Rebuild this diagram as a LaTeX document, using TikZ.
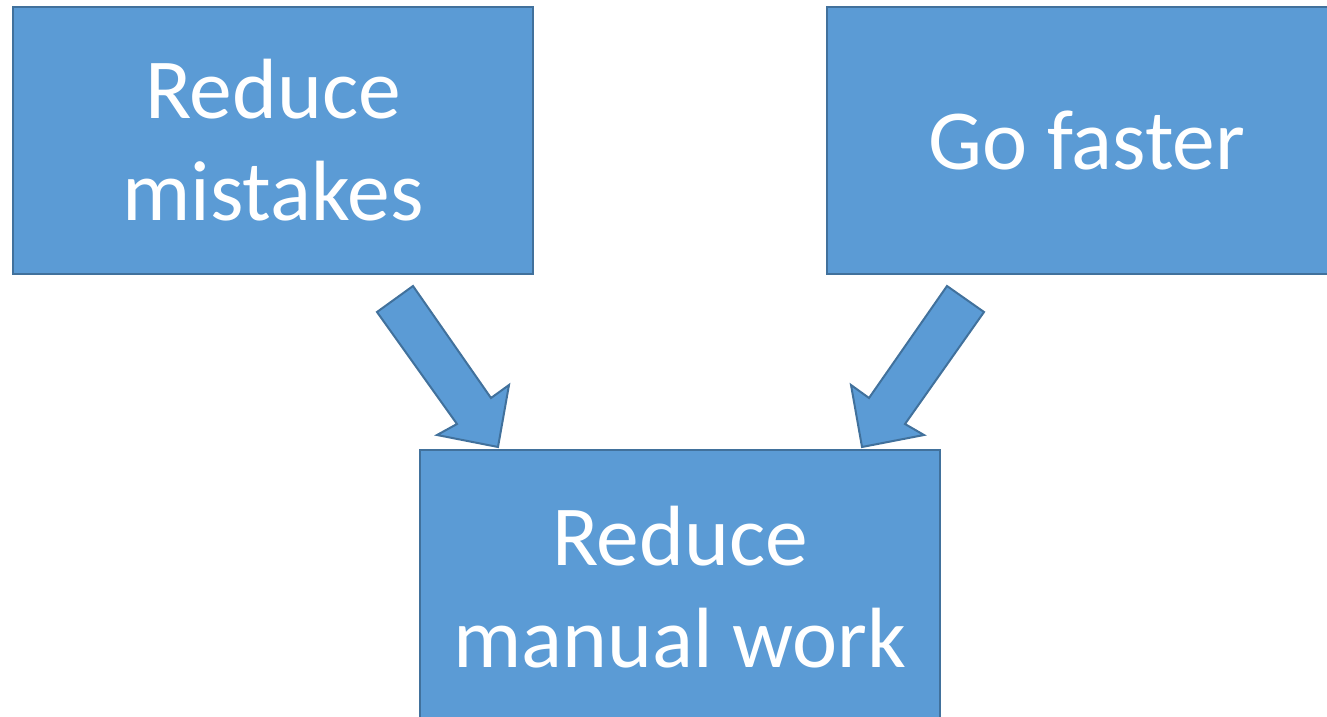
\documentclass[tikz,border=0pt]{standalone}
\usepackage{fontspec}
\setmainfont{Carlito}
\definecolor{boxfill}{HTML}{5B9BD5}
\definecolor{boxline}{HTML}{41719C}
\begin{document}
\begin{tikzpicture}[x=1pt,y=-1pt,
  goalbox/.style={draw=boxline, fill=boxfill, line width=2pt, minimum width=520pt, minimum height=267pt,
    text=white, align=center, font=\fontsize{85.5}{102}\selectfont, inner sep=0pt},
  blockarrow/.style={draw=boxline, fill=boxfill, line width=2pt, line join=miter}]
\useasboundingbox (0,0) rectangle (1327,717);
\clip (0,0) rectangle (1327,717);
\node[goalbox] (mistakes) at (273,140.5) {Reduce\\mistakes};
\node[goalbox] (faster) at (1087,140.5) {Go faster};
\node[goalbox, minimum height=274pt] (manual) at (680,587) {Reduce\\manual work};
\draw[blockarrow] (377,312) -- (413,286) -- (491,398) -- (509,385) -- (498,447) -- (437,435) -- (457,424) -- cycle;
\draw[blockarrow] (984,312) -- (947,286) -- (869,398) -- (851,385) -- (862,447) -- (924,435) -- (905,424) -- cycle;
\end{tikzpicture}
\end{document}
